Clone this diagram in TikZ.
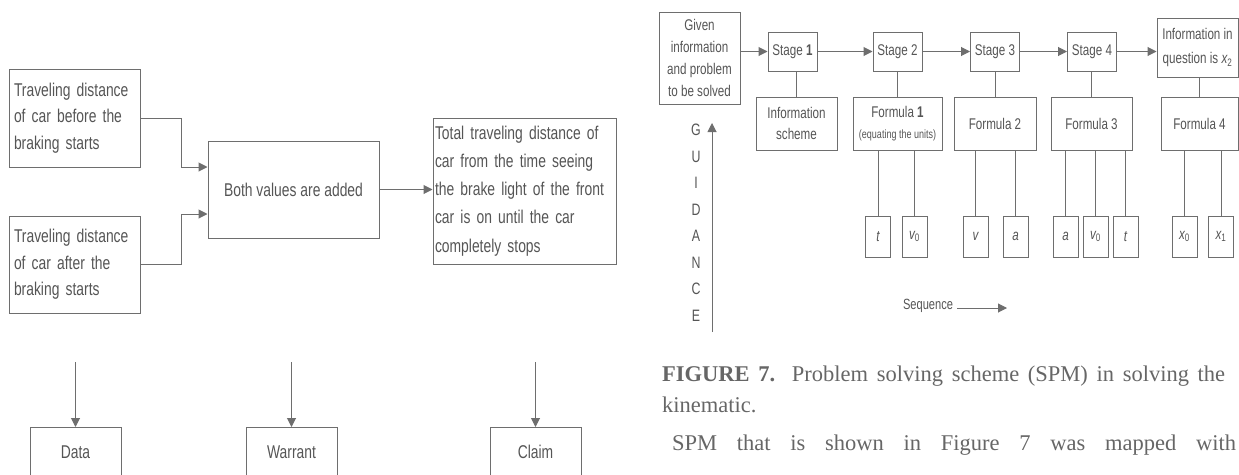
\documentclass[tikz,border=0pt]{standalone}
\usepackage{fontspec}
\setmainfont{Liberation Serif}
\newfontfamily\narrowsans[FakeStretch=0.75]{Liberation Sans}
\usetikzlibrary{positioning,calc,arrows.meta}
\definecolor{boxgray}{HTML}{6E6E6E}
\definecolor{inkgray}{HTML}{555555}
\definecolor{capgray}{HTML}{666666}

\begin{document}
\begin{tikzpicture}[
    x=1pt,y=-1pt,
    lbox/.style={rectangle,draw=boxgray,line width=1pt,text=inkgray,inner sep=0pt,
      font=\narrowsans\fontsize{18.5}{26.5}\selectfont},
    sbox/.style={rectangle,draw=boxgray,line width=1pt,text=inkgray,inner sep=0pt,align=center,
      font=\narrowsans\fontsize{15.5}{21.7}\selectfont},
    vbox/.style={sbox,minimum width=25pt,minimum height=41pt,
      font=\narrowsans\itshape\fontsize{15.5}{21.7}\selectfont},
    glyph/.style={text=inkgray,inner sep=0pt,font=\narrowsans\fontsize{16.5}{20}\selectfont},
    captext/.style={anchor=base west,inner sep=0pt,text=capgray,font=\fontsize{22.5}{27}\selectfont},
    flow/.style={-{Triangle[length=9pt,width=9pt]},line width=1pt,boxgray},
    link/.style={-,line width=1pt,boxgray}
  ]
    \useasboundingbox (0,0) rectangle (1239,474);
    % Left: braking distance
    \node[lbox,minimum width=131pt,minimum height=98pt,text width=121pt,align=left] (before) at (74.5,118)
      {Traveling distance\\of car before the\\braking starts};
    \node[lbox,minimum width=131pt,minimum height=97pt,text width=121pt,align=left] (after) at (74.5,264.5)
      {Traveling distance\\of car after the\\braking starts};
    \node[lbox,minimum width=171pt,minimum height=97pt] (added) at (293.5,189.5) {Both values are added};
    \node[lbox,minimum width=183pt,minimum height=146pt,text width=179pt,align=left,
      font=\narrowsans\fontsize{18.5}{28.2}\selectfont] (total) at (524.5,191)
      {Total traveling distance of\\car from the time seeing\\the brake light of the front\\car is on until the car\\completely stops};
    \draw[flow] (before.east) -- ++(41,0) |- ($(added.west)+(0,-22.5)$);
    \draw[flow] (after.east) -- ++(41,0) |- ($(added.west)+(0,24.5)$);
    \draw[flow] (added.east) -- (added.east -| total.west);
    % Toulmin row
    \foreach \name/\txt/\x in {data/Data/75.5, warrant/Warrant/291.5, claim/Claim/535.5} {
      \node[lbox,anchor=north,minimum width=91pt,text height=30.5pt,text depth=40pt] (\name) at (\x,427) {\txt};
      \coordinate (\name-in) at (\x,362);
      \draw[flow] (\name-in) -- (\name.north);
    }
    % Right: problem solving scheme
    \node[sbox,minimum width=81pt,minimum height=92pt] (given) at (699.5,58)
      {Given\\information\\and problem\\to be solved};
    \foreach \i/\x/\lab in {1/792.5/{Stage \textbf{1}}, 2/897.5/{Stage 2}, 3/995/{Stage 3}, 4/1092/{Stage 4}} {
      \node[sbox,minimum width=49pt,minimum height=39pt] (st\i) at (\x,51.5) {\lab};
    }
    \node[sbox,minimum width=81pt,minimum height=59pt,font=\narrowsans\fontsize{15.5}{24}\selectfont] (info) at (1197.5,47.5)
      {Information in\\question is {\itshape x}\textsubscript{2}};
    \draw[flow] (st1.west -| given.east) -- (st1.west);
    \draw[flow] (st1.east) -- (st2.west);
    \draw[flow] (st2.east) -- (st3.west);
    \draw[flow] (st3.east) -- (st4.west);
    \draw[flow] (st4.east) -- (st4.east -| info.west);
    % Formulas
    \node[sbox,minimum width=81pt,minimum height=53pt] (fm0) at (796.5,123.5) {Information\\scheme};
    \node[sbox,minimum width=89pt,minimum height=53pt] (fm1) at (897.5,123.5)
      {Formula \textbf{1}\\{\fontsize{12}{14}\selectfont(equating the units)}};
    \node[sbox,minimum width=82pt,minimum height=53pt] (fm2) at (995,123.5) {Formula 2};
    \node[sbox,minimum width=81pt,minimum height=53pt] (fm3) at (1091.5,123.5) {Formula 3};
    \node[sbox,minimum width=77pt,minimum height=53pt] (fm4) at (1199.5,123.5) {Formula 4};
    \foreach \f/\s in {fm0/st1, fm1/st2, fm2/st3, fm3/st4, fm4/info} {
      \draw[link] (\f.north) -- (\f.north |- \s.south);
    }
    % Variables
    \foreach \i/\f/\x/\lab in {1/fm1/878/t, 2/fm1/914.5/{v\textsubscript{\upshape 0}},
        3/fm2/975.5/v, 4/fm2/1015.5/a, 5/fm3/1065.5/a, 6/fm3/1095.5/{v\textsubscript{\upshape 0}},
        7/fm3/1125.5/t, 8/fm4/1184.5/{x\textsubscript{\upshape 0}}, 9/fm4/1221/{x\textsubscript{\upshape 1}}} {
      \node[vbox] (var\i) at (\x,236.5) {\lab};
      \draw[link] (var\i.north) -- (var\i.north |- \f.south);
    }
    % Guidance and sequence
    \foreach \ch [count=\k from 0] in {G,U,I,D,A,N,C,E} {
      \node[glyph] (g\k) at (696,130+26.5*\k) {\ch};
    }
    \coordinate (gfoot) at (712,332);
    \coordinate (ghead) at (712,123);
    \draw[flow] (gfoot) -- (ghead);
    \node[glyph,font=\narrowsans\fontsize{14.8}{18}\selectfont] (seq) at (928,306) {Sequence};
    \coordinate (seqend) at (1007,308);
    \draw[flow] ($(seq.east)+(4,2)$) -- (seqend);
    % Caption
    \node[captext] (cap1) at (662,381) {\makebox[563pt][s]{\textbf{FIGURE 7.} Problem solving scheme (SPM) in solving the}};
    \node[captext] (cap2) at (662,412) {kinematic.};
    \node[captext] (para) at (672,450) {\makebox[564pt][s]{SPM that is shown in Figure 7 was mapped with}};
  \end{tikzpicture}
\end{document}
